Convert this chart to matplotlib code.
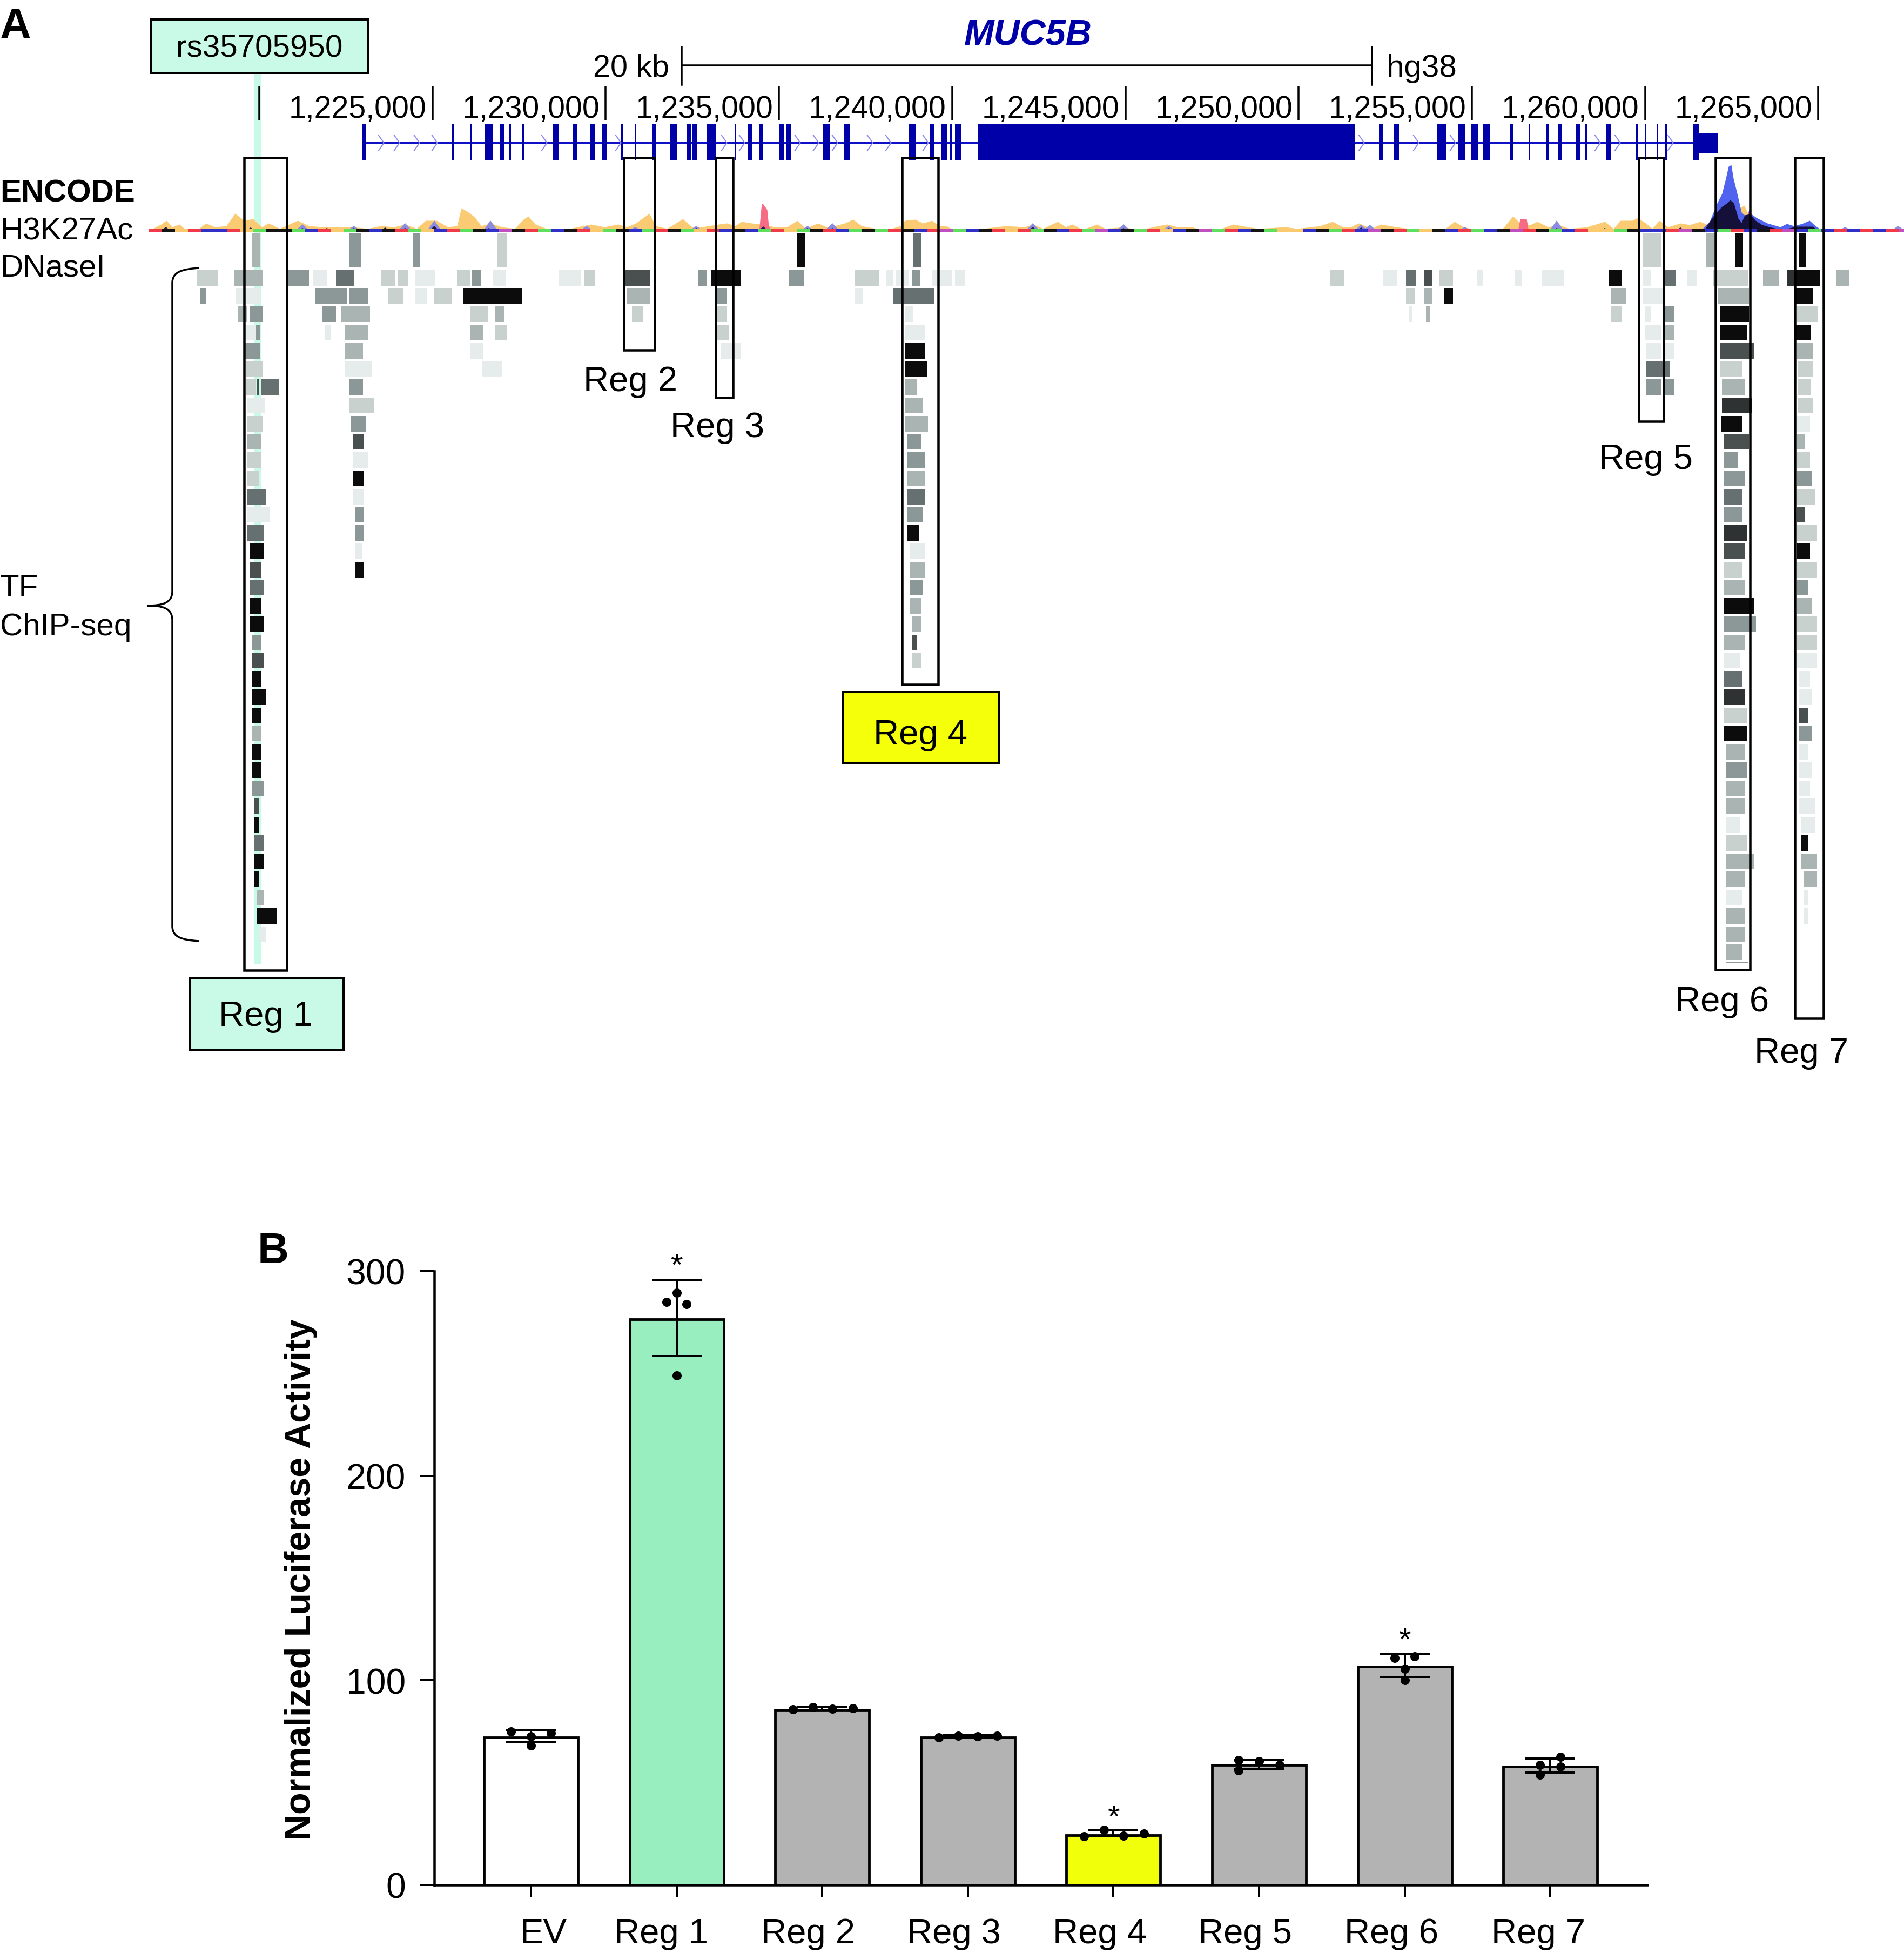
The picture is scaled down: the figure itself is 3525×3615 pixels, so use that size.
import numpy as np
import matplotlib
matplotlib.use('Agg')
import matplotlib.pyplot as plt
from matplotlib.path import Path
from matplotlib.patches import PathPatch, Rectangle
from matplotlib.transforms import ScaledTranslation

plt.rcParams['font.family'] = ['Liberation Sans', 'DejaVu Sans']

# Panel B values
groups = ['EV', 'Reg 1', 'Reg 2', 'Reg 3', 'Reg 4', 'Reg 5', 'Reg 6', 'Reg 7']
bar_values = [72, 276.5, 85.6, 72.2, 24.3, 58.5, 106.7, 57.8]
err_means = [72.5, 277.2, 86.2, 72.7, 25.2, 59, 107.2, 58.3]
err_sizes = [2.9, 18.7, 0.6, 0.5, 1.4, 2.2, 5.5, 3.5]
point_offsets = [[-0.138, 0, 0.138, 0], [-0.068, 0, 0.07, 0], [-0.2, -0.064, 0.07, 0.21],
                 [-0.2, -0.067, 0.067, 0.2], [-0.2, -0.064, 0.07, 0.21], [-0.14, 0, 0.14, -0.14],
                 [-0.068, 0.07, 0, 0], [-0.07, 0.07, 0.07, -0.07]]
point_values = [[75, 72.6, 74.2, 68.2], [285, 289.4, 284, 249], [85.8, 86.8, 86, 86.3],
                [72, 73, 72.6, 73], [23.7, 26.9, 24, 25], [61, 60.4, 58.6, 56],
                [111, 111.7, 105.6, 100], [58.6, 62.6, 57.8, 54]]
star_groups = [1, 4, 6]
star_values = [298.1, 28.6, 115.2]

# Panel A: track position along the browser window, with genome ticks
genome_ticks = [1220000, 1225000, 1230000, 1235000, 1240000, 1245000, 1250000, 1255000, 1260000, 1265000]
exon_starts = [670, 837, 870, 897, 925, 943, 967, 1023, 1060, 1093, 1115, 1150, 1175, 1208, 1241, 1272, 1282,
               1308, 1360, 1384, 1405, 1443, 1456, 1523, 1562, 1683, 1722, 1742, 1759, 1768, 1810,
               2553, 2581, 2661, 2699, 2724, 2746, 2796, 2830, 2863, 2885, 2918, 2935, 2974, 3029, 3045, 3067, 3083, 3134]
exon_ends = [677, 841, 874, 912, 934, 946, 970, 1035, 1069, 1102, 1123, 1153, 1178, 1215, 1253, 1280, 1290,
             1325, 1363, 1393, 1413, 1452, 1464, 1536, 1573, 1696, 1730, 1754, 1763, 1780, 2509,
             2560, 2590, 2677, 2712, 2737, 2759, 2801, 2833, 2867, 2892, 2926, 2938, 2982, 3032, 3048, 3069, 3086, 3145]
chevrons = [705, 734, 771, 804, 1007, 1144, 1340, 1373, 1476, 1510, 1545, 1610, 1644, 1713,
            2520, 2621, 2689, 2957, 2994, 3092]

orange_x = [276, 278, 298, 308, 319, 332, 344, 365, 381, 398, 419, 435, 452, 468, 485, 497, 518, 535, 551, 572, 597, 630,
            655, 680, 705, 730, 750, 771, 788, 808, 829, 846, 854, 866, 879, 891, 908, 929, 953, 970, 978, 991, 1011, 1045,
            1069, 1094, 1119, 1144, 1161, 1177, 1202, 1214, 1235, 1264, 1281, 1300, 1331, 1346, 1361, 1373, 1392, 1415, 1434,
            1457, 1476, 1491, 1514, 1530, 1545, 1564, 1579, 1595, 1621, 1644, 1667, 1675, 1694, 1709, 1725, 1740, 1751, 1767,
            1820, 1862, 1897, 1912, 1931, 1958, 1973, 1985, 2004, 2031, 2046, 2080, 2111, 2134, 2161, 2180, 2206, 2229, 2256,
            2283, 2310, 2329, 2379, 2402, 2444, 2467, 2486, 2500, 2516, 2539, 2556, 2585, 2608, 2640, 2676, 2693, 2709, 2722,
            2749, 2782, 2801, 2814, 2833, 2846, 2866, 2886, 2905, 2938, 2971, 2987, 3000, 3022, 3032, 3047, 3059, 3072, 3088,
            3111, 3128, 3147, 3167, 3193, 3229, 3242, 3259, 3286, 3326, 3350, 3376, 3525]
orange_h = [0, 2.5, 13, 20, 8, 13, 2.5, 2.5, 15, 8, 10, 33, 20, 23, 8, 15, 5, 13, 20, 10, 8, 8,
            8, 5, 10, 8, 13, 5, 20, 20, 8, 10, 43, 36, 26, 10, 15, 8, 5, 23, 28, 13, 5, 2.5,
            8, 13, 8, 13, 8, 15, 33, 10, 5, 23, 8, 8, 13, 15, 10, 18, 15, 12, 8,
            8, 20, 5, 15, 8, 10, 15, 22, 10, 5, 3, 10, 20, 22, 15, 20, 10, 10, 2,
            5, 10, 8, 13, 5, 18, 8, 13, 3, 13, 5, 8, 2, 8, 13, 8, 8, 2, 3,
            13, 8, 5, 8, 5, 10, 18, 8, 8, 15, 5, 13, 8, 5, 3, 5, 18, 8, 5,
            1, 5, 28, 15, 12, 18, 8, 12, 5, 8, 18, 5, 20, 20, 25, 15, 5, 20, 8,
            15, 12, 18, 10, 25, 48, 20, 15, 5, 8, 5, 1, 1]
blue_x = [560, 655, 750, 804, 908, 1086, 1176, 1289, 1495, 1541, 1912, 2080, 2164, 2520, 2536, 2615, 2712, 2882, 3416, 3514]
blue_h = [13, 10, 15, 20, 20, 10, 8, 10, 10, 15, 15, 13, 10, 12, 12, 5, 8, 20, 8, 10]
dark_x = [307, 430, 464, 560, 605, 655, 713, 750, 804, 904, 1086, 1289, 1413, 1476, 1495, 1541, 1705, 1912, 2080, 2164,
          2283, 2440, 2520, 2586, 2712, 2882, 2896, 2971, 3060, 3111]
dark_h = [8, 5, 7, 6, 6, 6, 7, 6, 10, 6, 5, 6, 9, 5, 6, 6, 4, 8, 6, 6, 4, 5, 7, 4, 5, 6, 4, 6, 4, 7]
pink_x = [1405, 1410, 1413, 1420, 1423, 1428, 2810, 2814, 2826, 2830]
pink_h = [0, 52, 50, 40, 10, 0, 0, 23, 23, 0]
big_blue_x = [3150, 3165, 3178, 3188, 3195, 3200, 3205, 3209, 3216, 3224, 3232, 3242, 3252, 3272, 3296, 3308, 3321, 3336, 3350, 3361, 3374]
big_blue_h = [3, 18, 50, 70, 98, 120, 123, 98, 70, 35, 28, 32, 25, 15, 8, 14, 10, 14, 20, 10, 1]
big_purple_x = [3225, 3239, 3251]
big_purple_h = [0, 43, 0]
big_dark_x = [3155, 3165, 3175, 3187, 3197, 3203, 3210, 3218, 3224, 3230, 3240, 3250, 3262, 3280, 3300, 3326, 3341, 3356, 3366]
big_dark_h = [2, 18, 32, 45, 52, 58, 52, 24, 16, 30, 32, 20, 12, 7, 3, 9, 9, 9, 1]
baseline_colors = ('rkorbbrogkkgbrogkbkrgobrgkbmkrgbkrogkbgrkgorbkbgrogkrbgkgrkbrmgbkrorgkbrgmbkgrobkmgrbk'
                   'goobkgrbmkrgokbrgbkmrkgbroogkbbrmkbgrbkrmbgbrbrbrmbgrbrbgmbrb')

# (start, end, shade)
dnase_cells = [(467, 482, 2), (647, 668, 3), (765, 778, 3), (921, 938, 1), (1476, 1490, 7), (1691, 1705, 4),
               (3041, 3075, 1), (3159, 3176, 2), (3213, 3227, 7), (3330, 3343, 7)]

# (row, start, end, shade)
wide_row_cells = [(0, 365, 404, 1), (0, 433, 453, 2), (0, 453, 487, 2), (0, 531, 572, 3), (0, 580, 605, 0), (0, 622, 655, 4),
                  (0, 706, 731, 1), (0, 736, 756, 1), (0, 769, 806, 0), (0, 846, 871, 1), (0, 874, 891, 3), (0, 913, 937, 0),
                  (0, 1035, 1076, 0), (0, 1081, 1102, 1), (0, 1154, 1203, 5), (0, 1292, 1308, 3), (0, 1317, 1371, 7),
                  (0, 1460, 1489, 3), (0, 1582, 1628, 1), (0, 1641, 1653, 0), (0, 1658, 1683, 0), (0, 1688, 1704, 3),
                  (0, 1725, 1763, 0), (0, 1768, 1787, 0), (0, 2463, 2488, 1), (0, 2561, 2586, 0), (0, 2603, 2622, 4),
                  (0, 2636, 2652, 5), (0, 2665, 2690, 1), (0, 2734, 2745, 0), (0, 2805, 2817, 0), (0, 2855, 2896, 0),
                  (0, 2978, 3003, 7), (0, 3041, 3056, 0), (0, 3078, 3103, 4), (0, 3124, 3142, 0), (0, 3172, 3236, 1),
                  (0, 3264, 3293, 2), (0, 3309, 3323, 6), (0, 3323, 3370, 7), (0, 3399, 3424, 2),
                  (1, 370, 382, 3), (1, 437, 453, 0), (1, 453, 482, 0), (1, 584, 642, 3), (1, 647, 681, 3), (1, 719, 747, 1),
                  (1, 769, 790, 0), (1, 803, 836, 1), (1, 858, 967, 7), (1, 1161, 1203, 2), (1, 1328, 1346, 3),
                  (1, 1582, 1598, 0), (1, 1653, 1675, 4), (1, 1675, 1729, 4), (1, 2603, 2619, 1), (1, 2636, 2652, 2),
                  (1, 2674, 2690, 7), (1, 2982, 3011, 2), (1, 3041, 3078, 0), (1, 3180, 3238, 2), (1, 3323, 3357, 7)]
reg1_cells = [(2, 441, 457, 2), (2, 462, 487, 3), (3, 453, 474, 0), (3, 474, 482, 3), (4, 453, 482, 3), (5, 455, 487, 1),
              (6, 455, 474, 1), (6, 475, 480, 5), (6, 483, 516, 4), (7, 458, 491, 0), (8, 458, 487, 1),
              (9, 458, 483, 2), (10, 458, 483, 1), (11, 458, 479, 1), (12, 458, 493, 4), (13, 458, 500, 0), (14, 458, 488, 4),
              (15, 462, 488, 7), (16, 462, 484, 5), (17, 462, 488, 4), (18, 462, 484, 7), (19, 462, 488, 7), (20, 466, 484, 3),
              (21, 466, 488, 5), (22, 466, 484, 7), (23, 466, 493, 7), (24, 466, 484, 7), (25, 466, 484, 2), (26, 466, 484, 7),
              (27, 466, 484, 7), (28, 466, 488, 3), (29, 470, 479, 5), (30, 470, 479, 7), (31, 470, 488, 4), (32, 470, 488, 7),
              (33, 470, 479, 7), (34, 475, 488, 2), (35, 475, 513, 7), (36, 479, 492, 0)]
side_cells = [(2, 597, 622, 3), (2, 631, 685, 2), (2, 870, 904, 1), (2, 917, 933, 2), (3, 602, 613, 0), (3, 639, 681, 2),
              (3, 870, 895, 2), (3, 917, 938, 1), (4, 639, 672, 2), (4, 870, 895, 0), (5, 639, 689, 0), (5, 892, 929, 0),
              (6, 647, 672, 3), (7, 647, 693, 1), (8, 649, 678, 3), (9, 653, 674, 5), (10, 653, 682, 0), (11, 653, 674, 7),
              (12, 653, 674, 0), (13, 657, 674, 3), (14, 657, 674, 3), (15, 657, 670, 0), (16, 657, 674, 7)]
reg2_reg3_cells = [(2, 1170, 1190, 1), (2, 1328, 1346, 1), (3, 1328, 1350, 1), (4, 1334, 1371, 0)]
reg4_cells = [(2, 1675, 1691, 0), (3, 1675, 1712, 0), (4, 1675, 1713, 7), (5, 1675, 1717, 7), (6, 1676, 1697, 2), (7, 1676, 1709, 2),
              (8, 1676, 1718, 2), (9, 1680, 1705, 3), (10, 1680, 1713, 3), (11, 1680, 1713, 2), (12, 1680, 1713, 4),
              (13, 1680, 1709, 3), (14, 1680, 1701, 7), (15, 1684, 1713, 0), (16, 1684, 1713, 2), (17, 1684, 1709, 3),
              (18, 1684, 1705, 2), (19, 1689, 1705, 2), (20, 1689, 1697, 5), (21, 1689, 1705, 1)]
right_side_cells = [(2, 2608, 2615, 0), (2, 2640, 2648, 2), (2, 2982, 3003, 1), (2, 3045, 3056, 0), (2, 3078, 3099, 3),
                    (3, 3045, 3075, 0), (3, 3078, 3099, 2), (4, 3048, 3075, 0), (4, 3078, 3099, 0), (5, 3048, 3091, 4),
                    (6, 3048, 3075, 3), (6, 3078, 3099, 3)]
reg6_cells = [(2, 3184, 3238, 7), (3, 3184, 3234, 7), (4, 3184, 3248, 5), (5, 3184, 3226, 1), (6, 3188, 3230, 2), (7, 3188, 3243, 6),
              (8, 3187, 3226, 7), (9, 3191, 3238, 5), (10, 3191, 3218, 3), (11, 3191, 3230, 3), (12, 3191, 3226, 4),
              (13, 3191, 3226, 3), (14, 3191, 3235, 6), (15, 3191, 3230, 5), (16, 3191, 3226, 1), (17, 3191, 3230, 2),
              (18, 3191, 3247, 7), (19, 3191, 3251, 3), (20, 3191, 3230, 2), (21, 3191, 3222, 0), (22, 3191, 3226, 4),
              (23, 3191, 3230, 6), (24, 3191, 3235, 1), (25, 3191, 3235, 7), (26, 3196, 3230, 2), (27, 3196, 3235, 3),
              (28, 3196, 3230, 2), (29, 3196, 3230, 2), (30, 3196, 3222, 0), (31, 3196, 3235, 1), (32, 3196, 3247, 2),
              (33, 3196, 3230, 2), (34, 3196, 3226, 0), (35, 3196, 3230, 2), (36, 3196, 3230, 2), (37, 3196, 3226, 2)]
reg7_cells = [(2, 3326, 3366, 1), (3, 3323, 3352, 7), (4, 3326, 3357, 2), (5, 3328, 3357, 1), (6, 3328, 3352, 1), (7, 3328, 3357, 1),
              (8, 3326, 3351, 0), (9, 3326, 3342, 2), (10, 3326, 3351, 1), (11, 3326, 3355, 3), (12, 3326, 3360, 1),
              (13, 3326, 3342, 5), (14, 3326, 3364, 1), (15, 3326, 3351, 7), (16, 3326, 3364, 1), (17, 3326, 3347, 3),
              (18, 3326, 3355, 2), (19, 3326, 3364, 1), (20, 3326, 3364, 1), (21, 3326, 3364, 0), (22, 3330, 3351, 0),
              (23, 3330, 3355, 0), (24, 3330, 3347, 5), (25, 3330, 3355, 3), (26, 3330, 3347, 0), (27, 3330, 3355, 0),
              (28, 3330, 3351, 0), (29, 3330, 3360, 0), (30, 3334, 3360, 0), (31, 3334, 3347, 7), (32, 3334, 3364, 2),
              (33, 3339, 3364, 2), (34, 3339, 3347, 0), (35, 3339, 3347, 0)]

# region boxes (left, right, bottom), all start under the gene track
box_left = [452, 1155, 1325, 1670, 3034, 3176, 3323]
box_right = [531, 1212, 1357, 1737, 3080, 3240, 3376]
box_bottom = [1797, 649, 737, 1268, 781, 1796, 1886]

shades = ['#e6eceb', '#c9d1cf', '#aab4b3', '#8c9797', '#677070', '#4a5050', '#2e3232', '#0c0c0c']
signal_colors = {'r': '#f03a4a', 'k': '#141414', 'o': '#fbc96e', 'b': '#3030c8', 'g': '#5ee05e', 'm': '#c050c0'}
mint = '#c9f9e7'
gene_blue = '#0000a8'

W, H = 3525, 3616
fig = plt.figure(figsize=(W / 100, H / 100), dpi=100)
ax = fig.add_axes([0, 0, 1, 1])
ax.set_xlim(0, W)
ax.set_ylim(H, 0)
ax.axis('off')


def px(n):
    return n * 0.72


def track_x(pos):
    return 480 + (pos - 1220000) / 5000 * 320.7


def row_y(row):
    return 515 + 33.75 * row


def draw_cells(cells):
    for row, start, end, shade in cells:
        ax.barh(row_y(row), end - start, left=start, height=29, color=shades[shade], linewidth=0, zorder=3)


# snp highlight
ax.axvspan(471, 483, ymin=1 - 1785 / H, ymax=1 - 137 / H, color=mint, linewidth=0, zorder=1)

# gene model
ax.plot([672, 3134], [265, 265], color='#1010c8', lw=px(5), solid_capstyle='butt', zorder=2)
chev = Path([(-0.35, -1), (0.35, 0), (-0.35, 1)], [Path.MOVETO, Path.LINETO, Path.LINETO])
ax.plot(chevrons, [265] * len(chevrons), ls='none', marker=chev, ms=px(30), mfc='none', mec='#8a8af0', mew=px(2), zorder=2.5)
for start, end in zip(exon_starts, exon_ends):
    ax.barh(264.5, end - start, left=start, height=67, color=gene_blue, linewidth=0, zorder=2.2)
ax.barh(266.5, 3180 - 3145, left=3145, height=37, color=gene_blue, linewidth=0, zorder=2.2)

# H3K27Ac signal
base = 429
ax.fill_between(orange_x, base, base - np.array(orange_h), color='#fbcb74', linewidth=0, zorder=2)
for cx, h in zip(blue_x, blue_h):
    ax.fill([cx - 14, cx, cx + 14], [base, base - h, base], color='#8b8be0', linewidth=0, zorder=2.1)
ax.fill_between(pink_x, base, base - np.array(pink_h), color='#f76c85', linewidth=0, zorder=2.1)
ax.fill_between(big_blue_x, base, base - np.array(big_blue_h), color='#4f63ee', linewidth=0, zorder=2.2)
ax.fill_between(big_purple_x, base, base - np.array(big_purple_h), color='#a860c8', linewidth=0, zorder=2.25)
ax.fill_between(big_dark_x, base, base - np.array(big_dark_h), color='#15103a', linewidth=0, zorder=2.3)
for cx, h in zip(dark_x, dark_h):
    ax.fill([cx - 10, cx, cx + 10], [base, base - h, base], color='#241a4a', linewidth=0, zorder=2.3)
for i, c in enumerate(baseline_colors):
    ax.barh(base - 1.5, 24, left=276 + i * 24, height=5, color=signal_colors[c], linewidth=0, zorder=2.4)

# DNaseI and TF clusters
for start, end, shade in dnase_cells:
    ax.barh(464.5, end - start, left=start, height=63, color=shades[shade], linewidth=0, zorder=3)
for cells in [wide_row_cells, reg1_cells, side_cells, reg2_reg3_cells, reg4_cells, right_side_cells, reg6_cells, reg7_cells]:
    draw_cells(cells)
ax.plot([3196, 3235], [1783, 1783], color=shades[3], lw=px(2), zorder=3)

# region boxes
for left, right, bottom in zip(box_left, box_right, box_bottom):
    ax.add_patch(Rectangle((left, 293), right - left, bottom - 293, fill=False, ec='black', lw=px(4.5), zorder=5))

# genome ticks and scale bar
for pos in genome_ticks:
    tx = track_x(pos)
    ax.plot([tx, tx], [161, 224], color='black', lw=px(3.5), solid_capstyle='butt', zorder=4)
    if pos > 1220000:
        ax.text(tx - 11, 218, f'{pos:,}', fontsize=41.2, ha='right', va='baseline')
ax.plot([1262, 2540], [122, 122], color='black', lw=px(3.5), zorder=4)
ax.plot([1262, 1262], [88, 158], color='black', lw=px(3.5), zorder=4)
ax.plot([2540, 2540], [88, 158], color='black', lw=px(3.5), zorder=4)
ax.text(1239, 142, '20 kb', fontsize=41.5, ha='right', va='baseline')
ax.text(2567, 142, 'hg38', fontsize=42, ha='left', va='baseline')
ax.text(1903, 83, 'MUC5B', fontsize=48, fontweight='bold', fontstyle='italic', color=gene_blue, ha='center', va='baseline')

# left labels
ax.text(0, 71, 'A', fontsize=57.6, fontweight='bold', ha='left', va='baseline')
ax.text(0, 373, 'ENCODE', fontsize=42, fontweight='bold', ha='left', va='baseline')
ax.text(0, 443, 'H3K27Ac', fontsize=42, ha='left', va='baseline')
ax.text(0, 512, 'DNaseI', fontsize=42, ha='left', va='baseline')
ax.text(0, 1104, 'TF', fontsize=42, ha='left', va='baseline')
ax.text(0, 1176, 'ChIP-seq', fontsize=42, ha='left', va='baseline')
brace_verts = [(369, 497), (335, 499), (319, 505), (319, 525), (319, 1095), (319, 1118), (300, 1122), (272, 1122),
               (300, 1122), (319, 1126), (319, 1149), (319, 1715), (319, 1735), (335, 1741), (369, 1743)]
brace_codes = [Path.MOVETO, Path.CURVE4, Path.CURVE4, Path.CURVE4, Path.LINETO, Path.CURVE4, Path.CURVE4, Path.CURVE4,
               Path.CURVE4, Path.CURVE4, Path.CURVE4, Path.LINETO, Path.CURVE4, Path.CURVE4, Path.CURVE4]
ax.add_patch(PathPatch(Path(brace_verts, brace_codes), fill=False, ec='black', lw=px(3.5), zorder=4))

# callouts
ax.add_patch(Rectangle((279, 37), 402, 99, fc=mint, ec='black', lw=px(4), zorder=4))
ax.text(480, 105, 'rs35705950', fontsize=42, ha='center', va='baseline', zorder=6)
ax.add_patch(Rectangle((351, 1811), 285, 133, fc=mint, ec='black', lw=px(4), zorder=4))
ax.text(492, 1899, 'Reg 1', fontsize=47, ha='center', va='baseline', zorder=6)
ax.add_patch(Rectangle((1561, 1282), 288, 132, fc='#f5ff0a', ec='black', lw=px(4), zorder=4))
ax.text(1704, 1378, 'Reg 4', fontsize=47, ha='center', va='baseline', zorder=6)
ax.text(1167, 724, 'Reg 2', fontsize=47, ha='center', va='baseline')
ax.text(1328, 809, 'Reg 3', fontsize=47, ha='center', va='baseline')
ax.text(3047, 868, 'Reg 5', fontsize=47, ha='center', va='baseline')
ax.text(3188, 1872, 'Reg 6', fontsize=47, ha='center', va='baseline')
ax.text(3335, 1967, 'Reg 7', fontsize=47, ha='center', va='baseline')
ax.text(477, 2338, 'B', fontsize=57.6, fontweight='bold', ha='left', va='baseline')

# Panel B
bx = fig.add_axes([804 / W, 1 - 3490 / H, (3050 - 804) / W, (3490 - 2354) / H])
bx.patch.set_alpha(0)
pos = np.arange(len(groups))
bar_colors = ['white', '#99eec0', '#b3b3b3', '#b3b3b3', '#f2ff0a', '#b3b3b3', '#b3b3b3', '#b3b3b3']
bx.bar(pos, bar_values, width=0.645, color=bar_colors, edgecolor='black', linewidth=px(4.8), zorder=2)
bx.errorbar(pos, err_means, yerr=err_sizes, fmt='none', ecolor='black', elinewidth=px(4), capsize=px(46),
            capthick=px(4), zorder=3, clip_on=False)
for i in pos:
    bx.plot(i + np.array(point_offsets[i]), point_values[i], 'o', color='black', ms=px(17), mew=0, zorder=4, clip_on=False)
for i, v in zip(star_groups, star_values):
    bx.text(i, v, '*', fontsize=42, ha='center', va='baseline', clip_on=False)
bx.set_xlim((804 - 983) / 269.6, (3050 - 983) / 269.6)
bx.set_ylim(0, 300)
bx.set_yticks([0, 100, 200, 300])
bx.set_xticks(pos)
bx.set_xticklabels(groups)
bx.spines['top'].set_visible(False)
bx.spines['right'].set_visible(False)
bx.spines['left'].set_linewidth(px(4.5))
bx.spines['bottom'].set_linewidth(px(4.5))
bx.tick_params(axis='y', labelsize=47.5, length=px(27), width=px(4), pad=px(26))
bx.tick_params(axis='x', labelsize=47, length=px(22), width=px(4), pad=px(38))
label_shift = [23, -29, -26, -26, -25, -26, -25, -22]
for lab, dx in zip(bx.get_xticklabels(), label_shift):
    lab.set_transform(lab.get_transform() + ScaledTranslation(dx / 100, 0, fig.dpi_scale_trans))
ax.text(588, 2924, 'Normalized Luciferase Activity', fontsize=47.8, fontweight='bold', rotation=90,
        ha='right', va='center')

fig.savefig('out.png', dpi=100)
